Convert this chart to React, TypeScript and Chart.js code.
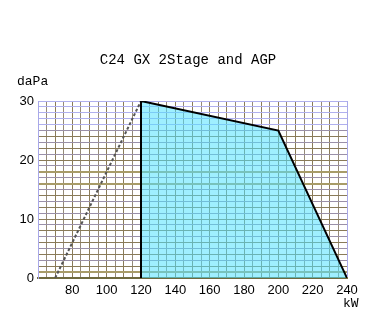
import React, { useEffect, useRef } from "react";
import { Chart, registerables } from "chart.js";

Chart.register(...registerables);

const titleText = "C24 GX 2Stage and AGP";
const yUnit = "daPa";
const xUnit = "kW";
const areaX = [120, 120, 200, 240];
const areaY = [0, 30, 25, 0];
const dashX = [70, 120];
const dashY = [0, 30];
const xMin = 60;
const xMax = 240;
const yMin = 0;
const yMax = 30;

const textPlugin = {
  id: "texts",
  afterDraw(chart: any) {
    const ctx = chart.ctx;
    ctx.save();
    ctx.fillStyle = "#000";
    ctx.font = "14px 'Liberation Mono', 'DejaVu Sans Mono', monospace";
    ctx.textAlign = "center";
    ctx.textBaseline = "middle";
    ctx.fillText(titleText, 188, 60);
    ctx.font = "13px 'Liberation Mono', monospace";
    ctx.textAlign = "left";
    ctx.fillText(yUnit, 17, 82);
    ctx.fillText(xUnit, 343, 304);
    ctx.restore();
  },
};

export default function App() {
  const ref = useRef<HTMLCanvasElement>(null);
  useEffect(() => {
    document.body.style.margin = "0";
    const ctx = ref.current!.getContext("2d")!;
    const chart = new Chart(ctx, {
      type: "line",
      data: {
        datasets: [
          {
            data: areaX.map((x, i) => ({ x, y: areaY[i] })),
            borderColor: "#000",
            borderWidth: 2,
            backgroundColor: "rgba(80,225,255,0.55)",
            fill: "origin",
            pointRadius: 0,
            tension: 0,
          },
          {
            data: dashX.map((x, i) => ({ x, y: dashY[i] })),
            borderColor: "#555",
            borderWidth: 2,
            borderDash: [3, 2],
            fill: false,
            pointRadius: 0,
            tension: 0,
          },
        ],
      },
      plugins: [textPlugin],
      options: {
        animation: false,
        responsive: false,
        layout: { padding: { left: 0, top: 101, right: 20, bottom: 0 } },
        plugins: { legend: { display: false }, tooltip: { enabled: false } },
        scales: {
          x: {
            type: "linear",
            min: xMin,
            max: xMax,
            afterFit: (s: any) => {
              s.height = 40;
            },
            afterBuildTicks: (s: any) => {
              const t = [];
              for (let v = xMin; v <= xMax; v += 5) t.push({ value: v });
              s.ticks = t;
            },
            ticks: {
              autoSkip: false,
              maxRotation: 0,
              padding: 5,
              color: "#000",
              font: { family: "'Liberation Sans', Arial, sans-serif", size: 13 },
              callback: (v: any) => (v % 20 === 0 && v >= 80 ? String(v) : ""),
            },
            grid: {
              drawTicks: false,
              lineWidth: 1,
              color: (c: any) => {
                const v = c.tick?.value;
                if (v === xMin || v === xMax) return "#a8a8e8";
                return (v / 5) % 2 === 0 ? "#8a7b58" : "#958a78";
              },
            },
            border: { display: true, color: "#6f6a3e", width: 2 },
          },
          y: {
            type: "linear",
            min: yMin,
            max: yMax,
            afterFit: (s: any) => {
              s.width = 38;
            },
            afterBuildTicks: (s: any) => {
              const t = [];
              for (let v = yMin; v <= yMax; v += 1) t.push({ value: v });
              s.ticks = t;
            },
            ticks: {
              autoSkip: false,
              padding: 4,
              color: "#000",
              font: { family: "'Liberation Sans', Arial, sans-serif", size: 13 },
              callback: (v: any) => (v % 10 === 0 ? String(v) : ""),
            },
            grid: {
              drawTicks: false,
              lineWidth: (c: any) => {
                const v = c.tick?.value;
                return v === 1 || v === 16 || v === 18 ? 2 : 1;
              },
              color: (c: any) => {
                const v = c.tick?.value;
                if (v >= 26) return "#b0b0ee";
                if (v === 1 || v === 16 || v === 18) return "#a89c68";
                return v % 2 === 0 ? "#8a7b58" : "#9a90a8";
              },
            },
            border: { display: true, color: "#a8a8e8", width: 1 },
          },
        },
      },
    });
    return () => chart.destroy();
  }, []);
  return <canvas ref={ref} width={367} height={318} style={{ display: "block" }} />;
}
